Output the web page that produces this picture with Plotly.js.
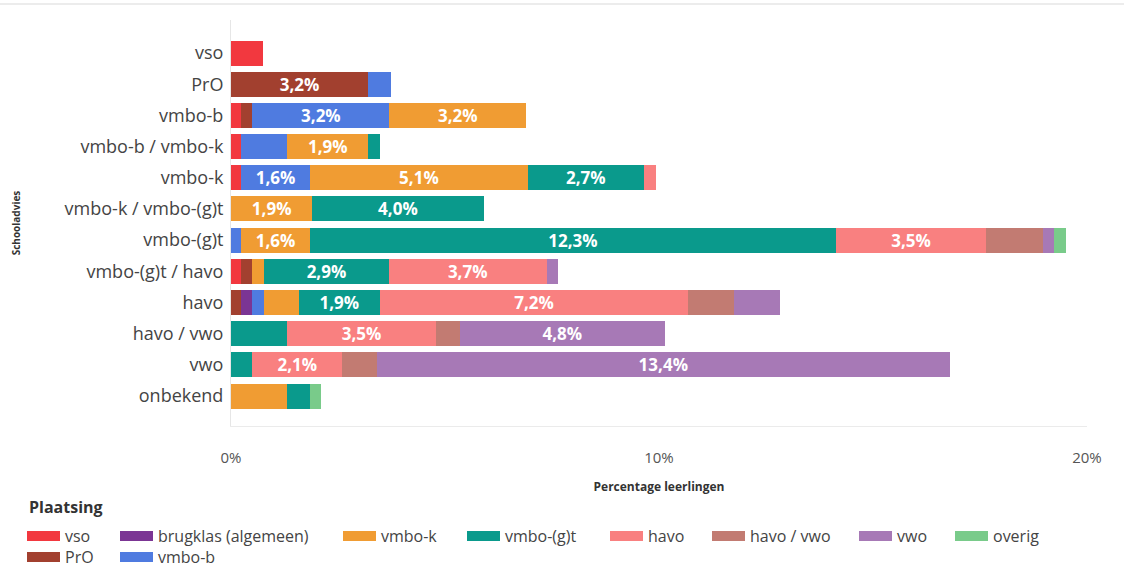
<!DOCTYPE html>
<html>
<head>
<meta charset="utf-8">
<script src="https://cdn.plot.ly/plotly-3.0.1.min.js"></script>
<style>html,body{margin:0;padding:0;background:#fff;}#chart{width:1124px;height:571px;}</style>
</head>
<body>
<div id="chart"></div>
<script>
// Categories (Schooladvies), top to bottom
const categories = ['vso','PrO','vmbo-b','vmbo-b / vmbo-k','vmbo-k','vmbo-k / vmbo-(g)t','vmbo-(g)t','vmbo-(g)t / havo','havo','havo / vwo','vwo','onbekend'];

// Series (Plaatsing), percentage of students per advice
const seriesNames = ['vso','PrO','brugklas (algemeen)','vmbo-b','vmbo-k','vmbo-(g)t','havo','havo / vwo','vwo','overig'];
const vso        = [0.75, 0,    0.24, 0.24, 0.24, 0,    0,    0.24, 0,    0,    0,    0];
const pro        = [0,    3.2,  0.26, 0,    0,    0,    0,    0.26, 0.24, 0,    0,    0];
const brugklas   = [0,    0,    0,    0,    0,    0,    0,    0,    0.26, 0,    0,    0];
const vmboB      = [0,    0.54, 3.2,  1.07, 1.6,  0,    0.24, 0,    0.28, 0,    0,    0];
const vmboK      = [0,    0,    3.2,  1.9,  5.1,  1.9,  1.6,  0.28, 0.8,  0,    0,    1.3];
const vmboGT     = [0,    0,    0,    0.26, 2.7,  4.0,  12.3, 2.9,  1.9,  1.3,  0.5,  0.54];
const havo       = [0,    0,    0,    0,    0.28, 0,    3.5,  3.7,  7.2,  3.5,  2.1,  0];
const havoVwo    = [0,    0,    0,    0,    0,    0,    1.33, 0,    1.07, 0.54, 0.8,  0];
const vwo        = [0,    0,    0,    0,    0,    0,    0.26, 0.26, 1.07, 4.8,  13.4, 0];
const overig     = [0,    0,    0,    0,    0,    0,    0.28, 0,    0,    0,    0,    0.26];
const seriesValues = [vso, pro, brugklas, vmboB, vmboK, vmboGT, havo, havoVwo, vwo, overig];

const tickValues = [0, 10, 20];
const tickLabels = ['0%', '10%', '20%'];

// Styling
const colors = ['#F2383F','#A2402F','#7B3594','#4F7BE0','#F09C33','#0A9A8C','#F98080','#C27B72','#A779B6','#79CB8A'];
// legend item positions in pixels (swatch left, row center)
const legendPx = [[27,536],[27,557],[120,536],[120,557],[343,536],[467,536],[610,536],[712,536],[859,536],[955,536]];

const L = 231, R = 1087, T = 20, B = 426;
const px2x = p => (p - L) / (R - L);
const px2y = p => (B - p) / (B - T);
const FONT = 'Open Sans, Lato, sans-serif';

const fmt = v => v >= 1.5 ? v.toFixed(1).replace('.', ',') + '%' : '';

const traces = [];
seriesNames.forEach((name, i) => {
  traces.push({
    type: 'bar',
    orientation: 'h',
    name: name,
    y: categories,
    x: seriesValues[i],
    text: seriesValues[i].map(fmt),
    textposition: 'inside',
    insidetextanchor: 'middle',
    textangle: 0,
    constraintext: 'none',
    insidetextfont: {family: FONT, size: 17, color: '#ffffff', weight: 'bold'},
    marker: {color: colors[i], line: {width: 0}},
    showlegend: false,
    hoverinfo: 'x+name'
  });
});
// legend entries (one per series)
seriesNames.forEach((name, i) => {
  traces.push({
    type: 'scatter',
    mode: 'lines',
    name: name,
    x: [null],
    y: [null],
    line: {color: colors[i], width: 15},
    legend: i === 0 ? 'legend' : 'legend' + (i + 1),
    showlegend: true,
    hoverinfo: 'skip'
  });
});

const layout = {
  width: 1124,
  height: 571,
  margin: {l: L, r: 1124 - R, t: T, b: 571 - B, pad: 0, autoexpand: false},
  paper_bgcolor: '#ffffff',
  plot_bgcolor: '#ffffff',
  barmode: 'stack',
  bargap: 0.2,
  font: {family: FONT, color: '#444'},
  xaxis: {
    type: 'linear',
    range: [0, 20],
    tickvals: tickValues,
    ticktext: tickLabels,
    ticks: 'outside',
    ticklen: 18,
    tickcolor: 'rgba(0,0,0,0)',
    tickfont: {family: FONT, size: 15, color: '#555'},
    showgrid: false,
    zeroline: false,
    showline: true,
    linecolor: '#ebebeb',
    linewidth: 1,
    title: {text: 'Percentage leerlingen', font: {family: FONT, size: 12, color: '#333', weight: 'bold'}, standoff: 16},
    fixedrange: true
  },
  yaxis: {
    type: 'category',
    range: [11.96, -1.06],
    ticks: 'outside',
    ticklen: 3,
    tickcolor: 'rgba(0,0,0,0)',
    tickfont: {family: FONT, size: 18, color: '#444'},
    showgrid: false,
    zeroline: false,
    showline: true,
    linecolor: '#e6e6e6',
    linewidth: 1,
    title: {text: 'Schooladvies', font: {family: FONT, size: 10, color: '#333', weight: 'bold'}, standoff: 42},
    fixedrange: true
  },
  annotations: [{
    text: 'Plaatsing',
    xref: 'paper', yref: 'paper',
    x: px2x(27), y: px2y(507),
    xanchor: 'left', yanchor: 'middle',
    showarrow: false,
    font: {family: FONT, size: 16, color: '#333', weight: 'bold'}
  }],
  shapes: [{
    type: 'line', xref: 'paper', yref: 'paper',
    x0: px2x(0), x1: px2x(1124), y0: px2y(4), y1: px2y(4),
    line: {color: '#ececec', width: 2}
  }]
};

legendPx.forEach((p, i) => {
  const key = i === 0 ? 'legend' : 'legend' + (i + 1);
  layout[key] = {
    x: px2x(p[0] - 5),
    y: px2y(p[1]),
    xanchor: 'left',
    yanchor: 'middle',
    orientation: 'v',
    bgcolor: 'rgba(0,0,0,0)',
    borderwidth: 0,
    itemwidth: 33,
    font: {family: FONT, size: 16, color: '#444'},
    itemclick: false,
    itemdoubleclick: false
  };
});

Plotly.newPlot('chart', traces, layout, {displayModeBar: false, staticPlot: true});
</script>
</body>
</html>
